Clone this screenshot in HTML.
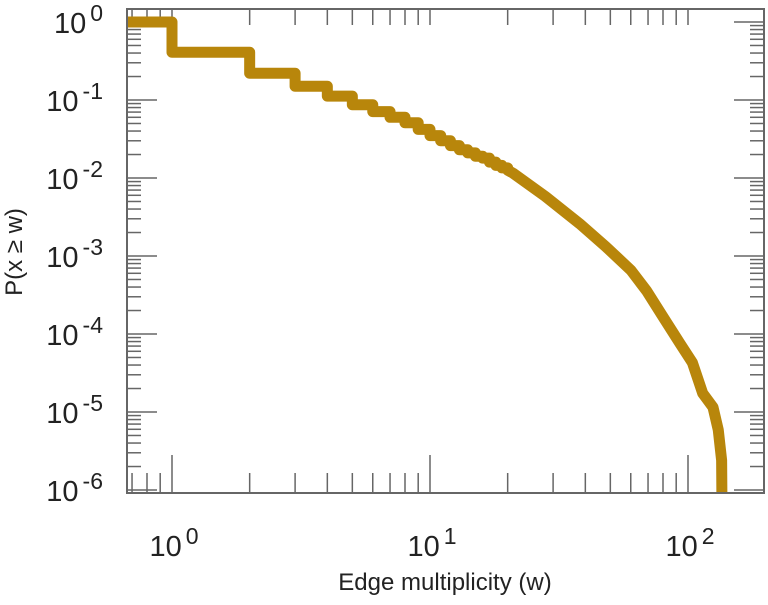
<!DOCTYPE html>
<html><head><meta charset="utf-8"><style>
body{margin:0;background:#fff;}
svg text{font-family:"Liberation Sans",sans-serif;fill:#222;}
</style></head><body>
<svg id="chart" width="768" height="600" viewBox="0 0 768 600" xmlns="http://www.w3.org/2000/svg">
<defs><clipPath id="plotclip"><rect x="127" y="9" width="637" height="484"/></clipPath></defs>
<g id="ticks"></g>
<g id="series" clip-path="url(#plotclip)"></g>
<rect x="127" y="9" width="637" height="484" fill="none" stroke="#666" stroke-width="2"/>
<g id="labels"></g>
<text x="445" y="590" font-size="24" text-anchor="middle">Edge multiplicity (w)</text>
<text transform="translate(22,252) rotate(-90)" font-size="24" text-anchor="middle">P(x ≥ w)</text>
</svg>
<script>
const wValues=[0.5,1,2,3,4,5,6,7,8,9,10,11,12,13,14,15,16,17,18,19,20,21,28,38,48,60,69,80,93,104,114,125,131,135,136];
const pValues=[1,0.41,0.22,0.15,0.112,0.087,0.071,0.06,0.051,0.042,0.035,0.030,0.026,0.023,0.021,0.019,0.018,0.016,0.0145,0.0135,0.0126,0.0115,0.0058,0.0026,0.00132,0.00066,0.00036,0.000166,0.000076,0.000043,0.0000174,0.0000115,0.0000059,0.0000024,0.0000001];
const stepLimit=20;
const xTickExps=[0,1,2];
const yTickExps=[0,-1,-2,-3,-4,-5,-6];
const NS="http://www.w3.org/2000/svg";
const L=127,R=764,T=9,B=493;
function xs(w){return 172+258*Math.log10(w);}
function ys(p){return 22-78*Math.log10(p);}
function mk(tag,parent){const e=document.createElementNS(NS,tag);parent.appendChild(e);return e;}
// series
let d="M"+L+","+ys(pValues[0]);
for(let i=1;i<wValues.length;i++){
  if(wValues[i]<=stepLimit){d+=" H"+xs(wValues[i])+" V"+ys(pValues[i]);}
  else{d+=" L"+xs(wValues[i])+","+ys(pValues[i]);}
}
d+=" V600";
const path=mk("path",document.getElementById("series"));


path.setAttribute("d",d);path.setAttribute("fill","none");path.setAttribute("stroke","#b8860b");path.setAttribute("stroke-width","11");path.setAttribute("stroke-linejoin","round");
// ticks
const tg=document.getElementById("ticks");
function line(x1,y1,x2,y2){const l=mk("line",tg);l.setAttribute("x1",x1);l.setAttribute("y1",y1);l.setAttribute("x2",x2);l.setAttribute("y2",y2);l.setAttribute("stroke","#666");l.setAttribute("stroke-width","1.5");

}
for(let e=-1;e<=2;e++){for(let m=1;m<10;m++){const w=m*Math.pow(10,e);const x=xs(w);if(x<=L+1||x>=R-1)continue;
 const maj=m===1;line(x,B,x,B-(maj?38:20));line(x,T,x,T+16);}}
for(let e=-6;e<=0;e++){for(let m=1;m<10;m++){const p=m*Math.pow(10,e);const y=ys(p);if(y<=T||y>=B+1)continue;
 const maj=m===1;line(L,y,L+(maj?30:14),y);line(R,y,R-(maj?30:14),y);}}
// labels
const lg=document.getElementById("labels");
function lab(x,y,exp,anchor,name){const t=mk("text",lg);t.setAttribute("x",x);t.setAttribute("y",y);t.setAttribute("font-size","29");t.setAttribute("text-anchor",anchor);


const a=mk("tspan",t);a.textContent="10";const b=mk("tspan",t);b.setAttribute("dy","-12");b.setAttribute("font-size","23");b.setAttribute("dx","4");b.textContent=String(exp);}
xTickExps.forEach(e=>lab(xs(Math.pow(10,e))+2,556,e,"middle","x-tick-label"));
yTickExps.forEach(e=>lab(103,ys(Math.pow(10,e))+11,e,"end","y-tick-label"));
</script>
</body></html>
